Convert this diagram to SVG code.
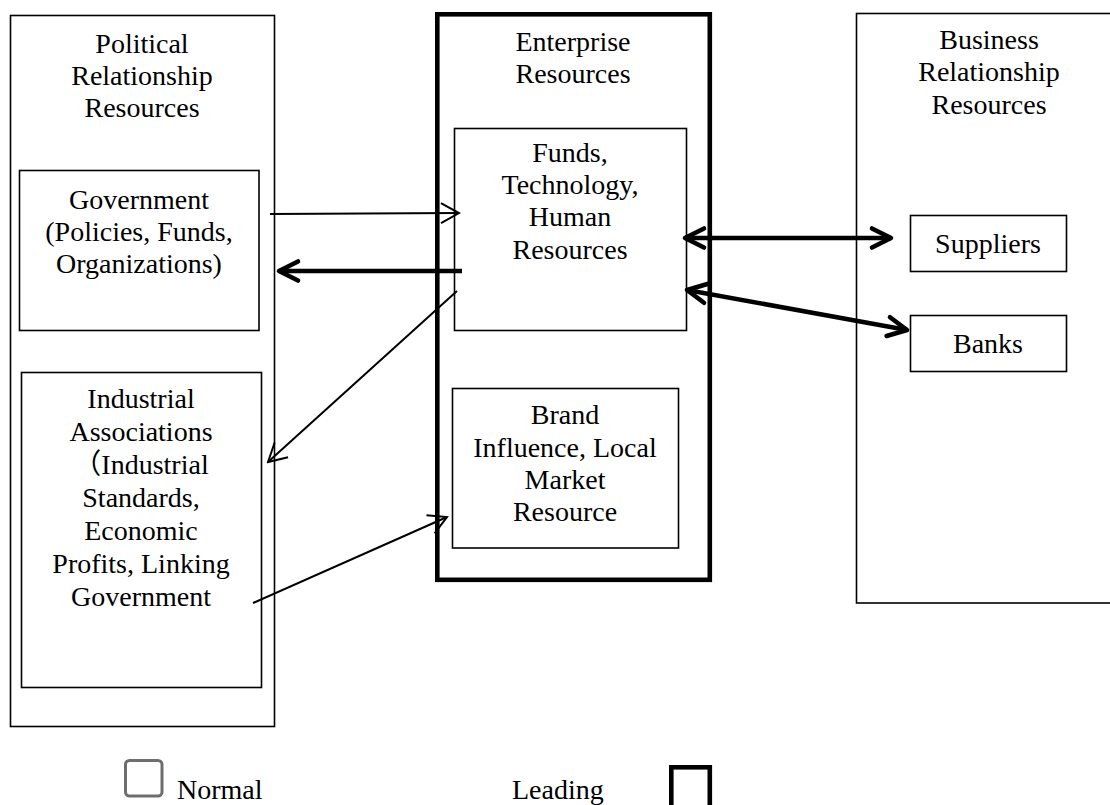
<svg xmlns="http://www.w3.org/2000/svg" width="1110" height="805" viewBox="0 0 1110 805">
  <style>
    text { font-family: "Liberation Serif", "Noto Sans CJK SC", serif; font-size: 28px; fill: #000; text-anchor: middle; }
    .box { fill: none; stroke: #000; stroke-width: 1.6; }
    .lead { fill: none; stroke: #000; stroke-width: 4.6; }
    .thin { fill: none; stroke: #000; stroke-width: 2; }
    .thick { fill: none; stroke: #000; stroke-width: 4.6; }
  </style>
  <defs>
    <marker id="vThin" markerUnits="userSpaceOnUse" viewBox="-22 -12 24 24" refX="0" refY="0" markerWidth="24" markerHeight="24" orient="auto-start-reverse">
      <path d="M-18,-10 L0,0 L-18,10" fill="none" stroke="#000" stroke-width="2"/>
    </marker>
    <marker id="vThick" markerUnits="userSpaceOnUse" viewBox="-24 -14 28 28" refX="0" refY="0" markerWidth="28" markerHeight="28" orient="auto-start-reverse">
      <path d="M-19,-9.5 L0,0 L-19,9.5" fill="none" stroke="#000" stroke-width="4.6" stroke-linecap="round" stroke-linejoin="round"/>
    </marker>
  </defs>

  <rect width="1110" height="805" fill="#fff"/>

  <!-- Political relationship resources -->
  <g id="political">
    <rect class="box" x="10.5" y="15.5" width="264" height="711"/>
    <text x="142" y="53">Political</text>
    <text x="142" y="85">Relationship</text>
    <text x="142" y="117">Resources</text>
  </g>
  <g id="government">
    <rect class="box" x="19.5" y="170.5" width="239.5" height="160"/>
    <text x="139" y="209">Government</text>
    <text x="139" y="241">(Policies, Funds,</text>
    <text x="139" y="273">Organizations)</text>
  </g>
  <g id="industrial">
    <rect class="box" x="21.5" y="372.5" width="240" height="315"/>
    <text x="141" y="408">Industrial</text>
    <text x="141" y="441">Associations</text>
    <text x="141" y="474">（Industrial</text>
    <text x="141" y="507">Standards,</text>
    <text x="141" y="540">Economic</text>
    <text x="141" y="573">Profits, Linking</text>
    <text x="141" y="606">Government</text>
  </g>

  <!-- Enterprise resources -->
  <g id="enterprise">
    <rect class="lead" x="437.3" y="14.3" width="272.5" height="565.5"/>
    <text x="573" y="51">Enterprise</text>
    <text x="573" y="83">Resources</text>
  </g>
  <g id="funds">
    <rect class="box" x="454.5" y="128.5" width="232" height="202"/>
    <text x="570" y="162">Funds,</text>
    <text x="570" y="194">Technology,</text>
    <text x="570" y="226">Human</text>
    <text x="570" y="259">Resources</text>
  </g>
  <g id="brand">
    <rect class="box" x="452.5" y="388.5" width="226" height="159.5"/>
    <text x="565" y="424">Brand</text>
    <text x="565" y="457">Influence, Local</text>
    <text x="565" y="489">Market</text>
    <text x="565" y="521">Resource</text>
  </g>

  <!-- Business relationship resources -->
  <g id="business">
    <rect class="box" x="856.5" y="13.5" width="300" height="589.5"/>
    <text x="989" y="49">Business</text>
    <text x="989" y="81">Relationship</text>
    <text x="989" y="114">Resources</text>
  </g>
  <g id="suppliers">
    <rect class="box" x="910.5" y="215.5" width="156" height="56"/>
    <text x="988" y="253">Suppliers</text>
  </g>
  <g id="banks">
    <rect class="box" x="910.5" y="315.5" width="156" height="56"/>
    <text x="988" y="353">Banks</text>
  </g>

  <!-- Connectors -->
  <g id="connectors">
    <line class="thin" x1="270" y1="214" x2="459" y2="213" marker-end="url(#vThin)"/>
    <line class="thick" x1="462" y1="271" x2="279" y2="271" marker-end="url(#vThick)"/>
    <line class="thin" x1="457" y1="291" x2="268" y2="462" marker-end="url(#vThin)"/>
    <line class="thin" x1="253" y1="603" x2="447" y2="517" marker-end="url(#vThin)"/>
    <line class="thick" x1="685" y1="238" x2="891" y2="238" marker-start="url(#vThick)" marker-end="url(#vThick)"/>
    <line class="thick" x1="687" y1="290" x2="907" y2="330" marker-start="url(#vThick)" marker-end="url(#vThick)"/>
  </g>

  <!-- Legend -->
  <g id="legend-normal">
    <rect x="125.5" y="760.5" width="36.5" height="35.5" rx="4" fill="#fff" stroke="#6e6e6e" stroke-width="3"/>
    <text x="177" y="799" style="text-anchor:start">Normal</text>
  </g>
  <g id="legend-leading">
    <text x="512" y="799" style="text-anchor:start">Leading</text>
    <rect class="lead" x="671.3" y="767.3" width="38.5" height="40"/>
  </g>
</svg>
